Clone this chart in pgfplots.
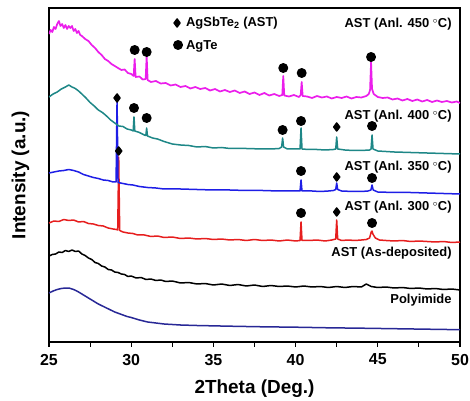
\documentclass[border=0pt]{standalone}
\usepackage{pgfplots}
\pgfplotsset{compat=1.18}
\usepackage{fontspec}
\setmainfont{Liberation Sans}
\definecolor{cmag}{RGB}{235,30,235}
\definecolor{cteal}{RGB}{30,135,135}
\definecolor{cblue}{RGB}{30,30,230}
\definecolor{cred}{RGB}{230,30,30}
\definecolor{cnavy}{RGB}{40,40,150}
\begin{document}
\begin{tikzpicture}
\path[use as bounding box] (-49bp,-59bp) rectangle (421bp,342bp);
\begin{axis}[
  at={(0,0)}, anchor=south west,
  scale only axis, width=411bp, height=334bp,
  xmin=25, xmax=50, ymin=0, ymax=334,
  xtick={25,30,35,40,45,50},
  minor xtick={27.5,32.5,37.5,42.5,47.5},
  ytick=\empty,
  xtick pos=bottom,
  tick align=outside,
  major tick length=4.5bp, minor tick length=4.5bp,
  every tick/.style={black, line width=1.1bp},
  axis line style={line width=1.2bp},
  /pgf/number format/assume math mode=true,
  xticklabel style={font=\fontsize{16}{18}\selectfont\bfseries, yshift=-4bp},
  xlabel={2Theta (Deg.)},
  ylabel={Intensity (a.u.)},
  every axis x label/.style={at={(axis description cs:0.5,-0.1395)}, anchor=center, font=\fontsize{19}{22}\selectfont\bfseries},
  every axis y label/.style={at={(axis description cs:-0.0693,0.5)}, rotate=90, anchor=center, font=\fontsize{19}{22}\selectfont\bfseries},
  every axis plot/.append style={line width=1.5bp, line join=round},
]
% Polyimide
\addplot[cnavy, no markers] coordinates {
(25.0,49)(25.25,51)(25.5,52.5)(25.75,53.5)(26.0,54)(26.25,53.8)(26.5,52.5)(26.75,50.5)(27.0,48)(27.25,45.5)(27.5,43)(27.75,40.5)(28.0,38)(28.25,36)(28.5,34)(28.75,32)(29.0,30)(29.25,28.5)(29.5,27)(29.75,25.5)(30.0,24.5)(30.5,22)(31.0,20)(31.5,19)(32.0,18)(33.0,17)(34.0,16.5)(36.0,15.8)(38.0,15.2)(40.0,14.8)(42.0,14.2)(44.0,13.8)(46.0,13.3)(48.0,12.8)(50.0,12.3)
};
% As-deposited
\addplot[black, no markers] coordinates {
(25.0,86)(25.2,87.5)(25.4,88)(25.6,90)(25.8,89.5)(26.0,91.5)(26.2,90.5)(26.4,92)(26.6,90.5)(26.8,91)(27.0,88)(27.2,86.5)(27.4,84)(27.6,82.5)(27.8,79.5)(28.0,78.5)(28.2,76)(28.4,75)(28.6,72.5)(28.8,72)(29.0,70)(29.2,69.5)(29.4,68)(29.6,67.5)(29.8,65.5)(30.0,66)(30.3,64)(30.6,64.5)(30.9,62.5)(31.2,63)(31.5,61.5)(31.8,62)(32.1,60.5)(32.5,61)(33.0,59)(33.5,59.5)(34.0,58)(34.5,58.5)(35.0,57)(35.5,58)(36.0,56.5)(36.5,57.5)(37.0,56)(37.5,57)(38.0,55.5)(38.5,56.5)(39.0,55.5)(39.5,56)(40.0,55)(40.5,56)(41.0,55)(41.5,55.5)(42.0,54.5)(42.5,55.5)(43.0,54.5)(43.5,55.5)(44.0,55)(44.3,58)(44.6,55.5)(45.0,54.5)(45.5,55)(46.0,54)(46.5,54.5)(47.0,53.5)(47.5,54)(48.0,53)(48.5,53.5)(49.0,52.5)(49.5,53)(50.0,52)
};
% 300 C
\addplot[cred, no markers] coordinates {
(25.0,119)(25.3,121)(25.6,120.5)(25.9,122.5)(26.2,121.5)(26.5,122)(26.8,120)(27.1,120.5)(27.4,118.5)(27.7,118)(28.0,116.5)(28.3,116)(28.6,114)(28.9,113)(29.1,112.5)(29.18,112)(29.24,185)(29.30,111.5)(29.5,110)(29.8,109)(30.1,108.5)(30.4,107)(30.8,107)(31.2,105.5)(31.6,106)(32.0,104.5)(32.5,105)(33.0,103.5)(33.5,104)(34.0,103)(34.5,103.5)(35.0,102.5)(35.5,103)(36.0,102)(36.5,102.5)(37.0,101.5)(37.5,102.5)(38.0,101.5)(38.5,102)(39.0,101)(39.5,102)(40.0,101)(40.27,101.5)(40.33,120)(40.39,101.5)(40.8,101.5)(41.3,102)(41.8,101)(42.2,102)(42.44,103)(42.5,122)(42.56,103)(42.8,101.5)(43.2,102)(43.6,101.5)(44.0,102)(44.3,102.5)(44.5,104)(44.6,110)(44.65,111)(44.7,108)(44.85,104)(45.1,102)(45.5,101.5)(46.0,101)(46.5,101.5)(47.0,100.5)(47.5,101)(48.0,100.5)(48.5,100)(49.0,100.5)(49.5,99.5)(50.0,100)
};
% 350 C
\addplot[cblue, no markers] coordinates {
(25.0,169)(25.3,170)(25.6,171)(25.9,171.5)(26.2,172.5)(26.5,171.5)(26.8,170)(27.1,167.5)(27.4,166)(27.7,164.5)(28.0,163.5)(28.3,162)(28.6,161.5)(28.9,160)(29.08,160)(29.14,242)(29.20,159.5)(29.5,158.5)(29.8,157.5)(30.1,157)(30.5,155.5)(31.0,154.5)(31.5,154)(32.0,153)(33.0,153)(34.0,152.5)(35.0,152)(36.0,152)(37.0,151.5)(38.0,151.5)(39.0,151)(40.0,151)(40.27,151)(40.33,162)(40.39,151)(41.0,151)(41.5,150.5)(42.0,151)(42.3,151.5)(42.44,152.5)(42.5,159)(42.56,152.5)(42.8,151)(43.5,150.5)(44.0,150.5)(44.4,151)(44.58,152)(44.65,157)(44.72,152)(45.0,150)(46.0,149.5)(47.0,149.5)(48.0,149)(49.0,148.5)(50.0,148)
};
% 400 C
\addplot[cteal, no markers] coordinates {
(25.0,245)(25.25,248)(25.5,250)(25.75,253)(26.0,255)(26.2,257)(26.4,255)(26.6,253.5)(26.8,251)(27.0,248)(27.25,244)(27.5,239.5)(27.75,236)(28.0,232)(28.25,229.5)(28.5,226)(28.75,222)(29.0,219)(29.25,216)(29.5,215.5)(29.75,213)(30.0,212)(30.12,211)(30.17,225)(30.22,211)(30.5,209.5)(30.8,207)(30.89,206.5)(30.94,214)(30.99,206)(31.3,204)(31.6,203)(32.0,200.5)(32.5,198)(33.0,197)(33.5,196.5)(34.0,195)(34.5,195.5)(35.0,194)(35.5,194.5)(36.0,193.5)(37.0,193.5)(38.0,193)(38.5,193)(39.0,193.5)(39.15,195)(39.21,204)(39.27,195)(39.5,193)(40.0,193)(40.27,193)(40.33,214)(40.39,193)(40.8,192.5)(41.3,192.5)(41.8,192)(42.3,192.5)(42.44,193)(42.5,205)(42.56,193)(43.0,192)(43.5,191.5)(44.0,191.5)(44.5,192)(44.59,193)(44.65,207)(44.71,193)(45.0,191)(45.5,190.5)(46.0,190)(47.0,189.5)(48.0,189)(49.0,188.5)(50.0,188)
};
% 450 C
\addplot[cmag, no markers, line width=1.7bp] coordinates {
(25.0,308)(25.1,312)(25.2,310)(25.3,315)(25.4,313)(25.5,318)(25.6,321)(25.7,316)(25.8,318)(25.9,314)(26.0,317)(26.1,313)(26.2,316)(26.3,314)(26.4,316)(26.5,311)(26.6,313)(26.7,309)(26.8,311)(26.9,307)(27.0,306)(27.2,303)(27.4,301)(27.6,297)(27.8,294)(28.0,290)(28.2,287)(28.4,283)(28.6,281)(28.8,278)(29.0,276)(29.2,274)(29.4,272)(29.6,272.5)(29.8,269)(30.0,268)(30.15,266)(30.21,283)(30.27,265)(30.5,265.5)(30.7,262.5)(30.88,263)(30.94,286)(31.0,262)(31.2,260)(31.5,261)(31.8,258.5)(32.1,259)(32.4,256.5)(32.7,257.5)(33.0,255)(33.3,256)(33.6,253.5)(33.9,255)(34.2,253)(34.5,254)(34.8,251.5)(35.1,253)(35.4,250.5)(35.7,252)(36.0,250)(36.3,251.5)(36.6,249)(36.9,250.5)(37.2,248)(37.5,249.5)(37.8,247)(38.1,249)(38.4,246.5)(38.7,248)(39.0,246)(39.19,247)(39.25,266)(39.31,246.5)(39.6,245.5)(39.9,247)(40.2,245)(40.31,247)(40.37,260)(40.43,246)(40.7,245.5)(41.0,244)(41.3,246)(41.6,244.5)(41.9,245.5)(42.2,243.5)(42.5,245)(42.8,244)(43.1,245.5)(43.4,243.5)(43.7,245)(44.0,244.5)(44.3,246)(44.45,248)(44.53,252)(44.59,280)(44.65,253)(44.75,248)(45.0,245)(45.3,244)(45.6,244.5)(45.9,242.5)(46.2,243.5)(46.5,241.5)(46.8,243)(47.1,241)(47.4,242.5)(47.7,240.5)(48.0,242)(48.3,240)(48.6,241.5)(48.9,240)(49.2,241)(49.5,239.5)(49.8,240.5)(50.0,239)
};
% AgTe markers
\addplot[only marks, mark=*, mark size=4.2bp, black] coordinates {
(30.21,292)(30.94,290)(39.25,274)(40.37,269)(44.59,285)
(30.17,234)(30.94,224)(39.21,212)(40.33,221)(44.65,216)
(40.33,171)(44.65,164)
(40.33,129)(44.65,119)
(32.85,297)
};
% AgSbTe2 markers
\addplot[only marks, mark=diamond*, mark size=4bp, black] coordinates {
(42.5,215)(29.14,244)(42.5,165)(29.24,191)(42.5,130)(32.79,319)
};
\node[anchor=west, inner sep=0, font=\fontsize{13}{15}\selectfont\bfseries] at (axis cs:33.33,319) {AgSbTe\textsubscript{2} (AST)};
\node[anchor=west, inner sep=0, font=\fontsize{13}{15}\selectfont\bfseries] at (axis cs:33.33,296) {AgTe};
\begin{scope}[every node/.style={anchor=east, inner sep=0, font=\fontsize{13}{15}\selectfont\bfseries}]
\node at (axis cs:49.5,318) {AST (Anl. 450 $^{\circ}$C)};
\node at (axis cs:49.5,226) {AST (Anl. 400 $^{\circ}$C)};
\node at (axis cs:49.5,175) {AST (Anl. 350 $^{\circ}$C)};
\node at (axis cs:49.5,135) {AST (Anl. 300 $^{\circ}$C)};
\node at (axis cs:49.5,89) {AST (As-deposited)};
\node at (axis cs:49.5,42) {Polyimide};
\end{scope}
\end{axis}
\end{tikzpicture}
\end{document}
